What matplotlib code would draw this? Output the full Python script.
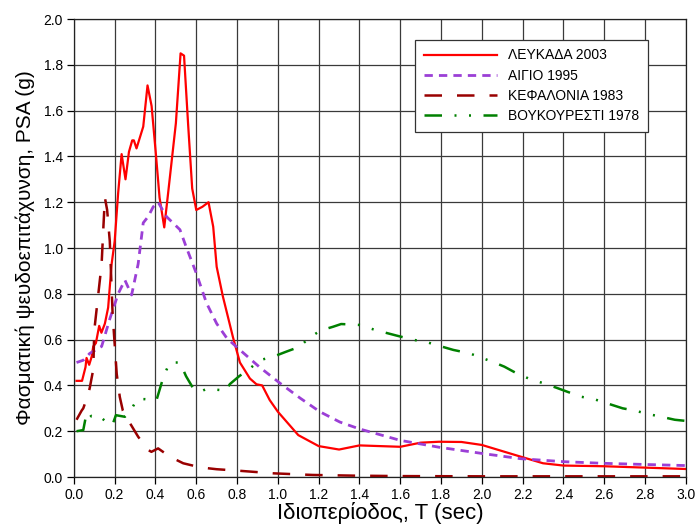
import matplotlib
matplotlib.use('Agg')
import matplotlib.pyplot as plt
from matplotlib.ticker import MultipleLocator, FormatStrFormatter

plt.rcParams['font.family'] = ['Liberation Sans', 'DejaVu Sans']

# Lefkada 2003 (red, solid)
lef_T = [0.013, 0.04, 0.057, 0.062, 0.075, 0.087, 0.095, 0.108, 0.124, 0.135, 0.152, 0.168,
         0.185, 0.20, 0.217, 0.234, 0.253, 0.27, 0.286, 0.294, 0.307, 0.34, 0.361, 0.381,
         0.402, 0.42, 0.443, 0.462, 0.50, 0.523, 0.54, 0.56, 0.58, 0.60, 0.63, 0.66, 0.683,
         0.70, 0.73, 0.78, 0.814, 0.863, 0.895, 0.923, 0.96, 1.0, 1.1, 1.2, 1.3, 1.4, 1.6,
         1.7, 1.79, 1.9, 2.0, 2.19, 2.3, 2.4, 2.6, 2.8, 3.0]
lef_psa = [0.42, 0.42, 0.48, 0.52, 0.49, 0.525, 0.57, 0.585, 0.66, 0.63, 0.67, 0.74,
           0.93, 1.03, 1.24, 1.41, 1.30, 1.42, 1.47, 1.47, 1.435, 1.53, 1.71, 1.62,
           1.41, 1.22, 1.09, 1.24, 1.545, 1.85, 1.84, 1.54, 1.26, 1.166, 1.18, 1.20, 1.093,
           0.918, 0.79, 0.61, 0.50, 0.43, 0.405, 0.40, 0.336, 0.285, 0.183, 0.135, 0.12, 0.138, 0.132,
           0.15, 0.154, 0.153, 0.14, 0.089, 0.06, 0.05, 0.047, 0.041, 0.035]

# Aigio 1995 (purple, short dashes)
aig_T = [0.013, 0.046, 0.078, 0.136, 0.176, 0.217, 0.25, 0.283, 0.315, 0.34, 0.364, 0.389,
         0.413, 0.454, 0.52, 0.55, 0.60, 0.65, 0.70, 0.75, 0.814, 0.91, 1.01, 1.11, 1.206,
         1.304, 1.40, 1.60, 1.79, 2.0, 2.19, 2.4, 2.59, 2.79, 3.0]
aig_psa = [0.50, 0.51, 0.54, 0.57, 0.69, 0.80, 0.86, 0.795, 0.93, 1.11, 1.137, 1.18,
           1.20, 1.137, 1.08, 1.006, 0.89, 0.76, 0.67, 0.606, 0.555, 0.48, 0.41, 0.344, 0.285,
           0.24, 0.21, 0.16, 0.13, 0.103, 0.08, 0.067, 0.06, 0.055, 0.05]

# Kefalonia 1983 (dark red, long dashes)
kef_T = [0.013, 0.038, 0.046, 0.07, 0.078, 0.095, 0.10, 0.136, 0.144, 0.152, 0.163, 0.176,
         0.19, 0.21, 0.225, 0.24, 0.275, 0.315, 0.364, 0.38, 0.413, 0.47, 0.536, 0.62, 0.70,
         0.80, 0.98, 1.17, 1.37, 1.6, 2.0, 2.5, 3.0]
kef_psa = [0.25, 0.29, 0.30, 0.36, 0.39, 0.47, 0.64, 0.93, 1.08, 1.22, 1.166, 1.03,
           0.71, 0.45, 0.35, 0.29, 0.235, 0.176, 0.118, 0.11, 0.125, 0.089, 0.06, 0.042, 0.034,
           0.028, 0.016, 0.009, 0.006, 0.004, 0.003, 0.003, 0.003]

# Voukouresti 1978 (green, dash-dot-dot)
vou_T = [0.013, 0.046, 0.06, 0.07, 0.085, 0.12, 0.176, 0.19, 0.206, 0.25, 0.275, 0.31,
         0.35, 0.405, 0.44, 0.47, 0.52, 0.55, 0.585, 0.62, 0.65, 0.715, 0.74, 0.765, 0.81,
         0.865, 0.91, 0.976, 1.04, 1.11, 1.15, 1.21, 1.27, 1.31, 1.336, 1.40, 1.467, 1.52,
         1.58, 1.66, 1.737, 1.79, 1.86, 1.94, 2.0, 2.05, 2.11, 2.17, 2.235, 2.30, 2.365,
         2.42, 2.49, 2.55, 2.62, 2.69, 2.75, 2.815, 2.88, 2.946, 3.0]
vou_psa = [0.20, 0.205, 0.27, 0.285, 0.265, 0.27, 0.227, 0.23, 0.27, 0.263, 0.285, 0.34,
           0.34, 0.336, 0.44, 0.50, 0.50, 0.44, 0.387, 0.372, 0.385, 0.38, 0.372, 0.406, 0.44,
           0.475, 0.51, 0.525, 0.547, 0.57, 0.606, 0.64, 0.656, 0.668, 0.667, 0.664, 0.645, 0.632,
           0.618, 0.60, 0.587, 0.573, 0.555, 0.54, 0.52, 0.504, 0.482, 0.453, 0.428, 0.41, 0.39,
           0.372, 0.35, 0.34, 0.32, 0.30, 0.29, 0.275, 0.263, 0.25, 0.245]

labels = ['ΛΕΥΚΑΔΑ 2003', 'ΑΙΓΙΟ 1995', 'ΚΕΦΑΛΟΝΙΑ 1983', 'ΒΟΥΚΟΥΡΕΣΤΙ 1978']

fig = plt.figure(figsize=(6.97, 5.25), dpi=100)
ax = fig.add_axes([0.106, 0.0914, 0.878, 0.8724])

ax.plot(lef_T, lef_psa, color='#ff0000', lw=1.6, label=labels[0])
ax.plot(aig_T, aig_psa, color='#9b3fd6', lw=2.0, dashes=(3, 2.2), label=labels[1])
ax.plot(kef_T, kef_psa, color='#990000', lw=1.8, dashes=(7, 6), label=labels[2])
ax.plot(vou_T, vou_psa, color='#008000', lw=1.8, dashes=(7, 5, 0.8, 5, 0.8, 5), label=labels[3])

ax.set_xlim(0, 3.0)
ax.set_ylim(0, 2.0)
ax.xaxis.set_major_locator(MultipleLocator(0.2))
ax.yaxis.set_major_locator(MultipleLocator(0.2))
ax.xaxis.set_major_formatter(FormatStrFormatter('%.1f'))
ax.yaxis.set_major_formatter(FormatStrFormatter('%.1f'))
ax.grid(True, color='#3a3a3a', lw=0.9)
ax.set_axisbelow(True)
ax.tick_params(direction='out', length=5, width=0.9, labelsize=10, pad=3)
for s in ax.spines.values():
    s.set_linewidth(0.9)
    s.set_color('#222222')

ax.set_xlabel('Ιδιοπερίοδος, T (sec)', fontsize=16, labelpad=0)
ax.set_ylabel('Φασματική ψευδοεπιτάχυνση, PSA (g)', fontsize=15, labelpad=6)

leg = ax.legend(loc='upper right', bbox_to_anchor=(0.949, 0.969), fontsize=10,
                handlelength=5.3, fancybox=False, framealpha=1, edgecolor='#333333',
                borderpad=0.6, labelspacing=0.45, handletextpad=0.8)
leg.get_frame().set_linewidth(0.9)

fig.savefig('out.png', dpi=100)
